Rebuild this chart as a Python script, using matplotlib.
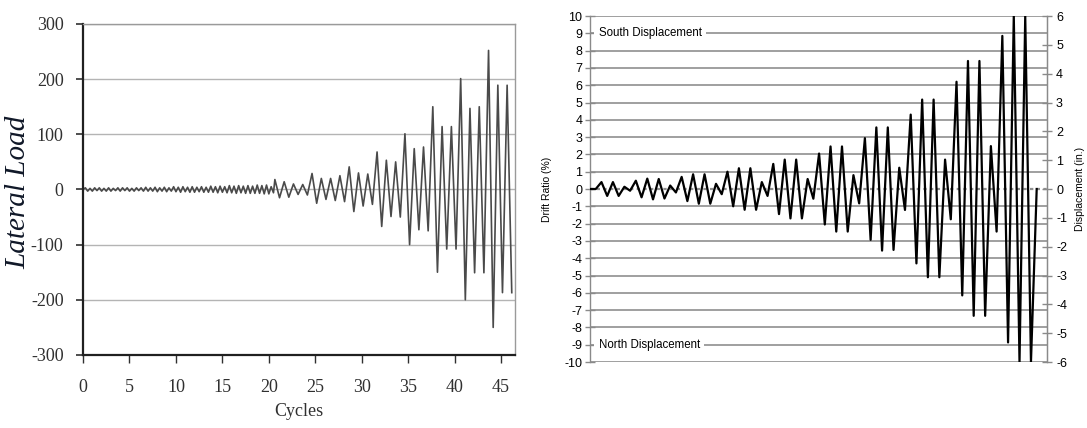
import numpy as np
import matplotlib.pyplot as plt

plt.rcParams['axes.unicode_minus'] = False

# ---------------- data ---------------- #

# left: lateral load history (small wiggles up to ~20 cycles, then growing cycles)
early_load = [0,
              3, -3, 2, -3, 3, -2, 3, -3,
              2, -3, 3, -3, 2, -2, 3, -3,
              3, -2, 3, -3, 2, -3, 3, -2,
              3, -3, 4, -3, 3, -3, 4, -4,
              3, -3, 4, -4, 3, -3, 5, -4,
              4, -5, 5, -4, 4, -5, 5, -5,
              4, -4, 5, -5, 4, -5, 6, -5,
              5, -6, 6, -5, 5, -6, 7, -6,
              6, -7, 7, -6, 6, -7, 7, -7,
              6, -7, 8, -7, 7, -8, 8, -8,
              5, -6]
early_step = 0.25

late_load = [18, -15, 14, -14, 10, -9, 9, -10,
             29, -25, 20, -18, 20, -20, 25, -22,
             41, -40, 30, -30, 28, -27,
             68, -67, 53, -49, 50, -50,
             101, -100, 74, -73, 77, -75,
             150, -150, 114, -108, 114, -108,
             201, -200, 147, -151, 150, -151,
             252, -250, 189, -187, 189, -187]
late_start = 20.65
late_step = 0.5

load_xticks = [0, 5, 10, 15, 20, 25, 30, 35, 40, 45]
load_yticks = [-300, -200, -100, 0, 100, 200, 300]

# right: drift ratio protocol (one point per half cycle peak)
drift = [0, 0,
         0.4, -0.4, 0.4, -0.4, 0.13, -0.1,
         0.48, -0.48, 0.6, -0.6, 0.58, -0.55, 0.2, -0.2,
         0.7, -0.7, 0.85, -0.85, 0.85, -0.85, 0.3, -0.3,
         1.0, -1.0, 1.2, -1.2, 1.2, -1.2, 0.4, -0.4,
         1.45, -1.45, 1.7, -1.7, 1.7, -1.7, 0.58, -0.56,
         2.05, -2.05, 2.46, -2.46, 2.46, -2.46, 0.8, -0.83,
         2.94, -2.94, 3.56, -3.56, 3.56, -3.52, 1.23, -1.21,
         4.3, -4.3, 5.17, -5.1, 5.17, -5.1, 1.7, -1.75,
         6.2, -6.15, 7.4, -7.33, 7.4, -7.33, 2.48, -2.46,
         8.85, -8.87, 10.0, -10.0, 10.0, -10.0, 0]
drift_ticks = list(range(-10, 11))
disp_ticks = list(range(-6, 7))

# ---------------- figure ---------------- #

fig = plt.figure(figsize=(10.87, 4.28), dpi=100)

# ===== left chart ===== #
ax = fig.add_axes([0.0764, 0.1706, 0.3974, 0.7734])

x_early = np.arange(len(early_load)) * early_step
x_late = late_start + np.arange(len(late_load)) * late_step
cycles = np.concatenate([x_early, x_late])
load = np.concatenate([early_load, late_load])

ax.plot(cycles, load, color='#4a4a4a', lw=1.2)

ax.set_xlim(0, 46.5)
ax.set_ylim(-300, 300)
ax.set_xticks(load_xticks)
ax.set_yticks(load_yticks)
ax.yaxis.grid(True, color='#b4b4b4', lw=1.0)
ax.set_axisbelow(True)

for side in ['top', 'right']:
    ax.spines[side].set_color('#9a9a9a')
    ax.spines[side].set_linewidth(1.0)
for side in ['left', 'bottom']:
    ax.spines[side].set_color('#202020')
    ax.spines[side].set_linewidth(1.6)

serif = 'Liberation Serif'
ax.tick_params(axis='y', direction='out', length=5, width=1.2, pad=9, color='#303030')
ax.tick_params(axis='x', direction='out', length=6, width=1.0, pad=11, color='#303030')
for lab in ax.get_xticklabels() + ax.get_yticklabels():
    lab.set_fontfamily(serif)
    lab.set_fontsize(13)
    lab.set_color('#303030')

ax.set_xlabel('Cycles', fontfamily=serif, fontsize=13, color='#303030', labelpad=5)
# y label placed by hand, far left of the tick labels
fig.text(18 / 1087, 1 - 192 / 428, 'Lateral Load', fontfamily=serif, fontsize=21,
         style='italic', color='#101828', rotation=90, ha='center', va='center')

# ===== right chart ===== #
ax1 = fig.add_axes([0.5428, 0.1542, 0.4204, 0.8084])

ax1.plot(range(len(drift)), drift, color='black', lw=1.6, zorder=3)

ax1.set_xlim(0, 79.8)
ax1.set_ylim(-10, 10)
ax1.set_yticks(drift_ticks)
ax1.set_xticks([])
ax1.yaxis.grid(True, color='#8f8f8f', lw=1.2)
ax1.set_axisbelow(True)
# zero line is dotted
for val, gl in zip(drift_ticks, ax1.yaxis.get_gridlines()):
    if val == 0:
        gl.set_linestyle((0, (1.5, 1.5)))
        gl.set_linewidth(1.6)

for side in ['top', 'bottom']:
    ax1.spines[side].set_visible(False)
for side in ['left', 'right']:
    ax1.spines[side].set_color('#8a8a8a')
    ax1.spines[side].set_linewidth(1.0)

sans = 'Liberation Sans'
ax1.tick_params(axis='y', direction='inout', length=7, width=1.0, color='#8a8a8a',
                labelsize=9, pad=2)
for lab in ax1.get_yticklabels():
    lab.set_fontfamily(sans)
ax1.set_ylabel('Drift Ratio (%)', fontfamily=sans, fontsize=7.5, labelpad=9)

ax1.text(1.5, 9, 'South Displacement', fontfamily=sans, fontsize=8.3, va='center',
         ha='left', bbox=dict(fc='white', ec='none', pad=3), zorder=4)
ax1.text(1.5, -9, 'North Displacement', fontfamily=sans, fontsize=8.3, va='center',
         ha='left', bbox=dict(fc='white', ec='none', pad=3), zorder=4)

ax2 = ax1.twinx()
ax2.set_ylim(-6, 6)
ax2.set_yticks(disp_ticks)
for side in ['top', 'bottom', 'left']:
    ax2.spines[side].set_visible(False)
ax2.spines['right'].set_color('#8a8a8a')
ax2.tick_params(axis='y', direction='inout', length=7, width=1.0, color='#8a8a8a',
                labelsize=9, pad=3)
for lab in ax2.get_yticklabels():
    lab.set_fontfamily(sans)
ax2.set_ylabel('Displacement (in.)', fontfamily=sans, fontsize=7.5, labelpad=6)

fig.savefig('out.png', dpi=100)
